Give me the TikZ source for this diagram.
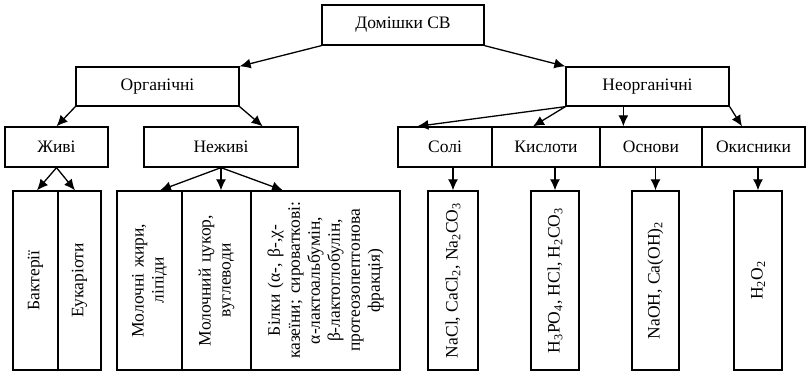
\documentclass[tikz,border=0pt]{standalone}
\usepackage{fontspec}
\setmainfont{Liberation Serif}
\usepackage{tikz}
\usetikzlibrary{calc,arrows.meta}

\begin{document}
\begin{tikzpicture}[x=1pt,y=-1pt,
  box/.style={draw,line width=1.3pt,inner sep=0pt,font=\fontsize{17.5}{20}\selectfont},
  vbox/.style={box,rotate=90,align=center,minimum width=179pt},
  arr/.style={line width=1.3pt,-{Latex[length=11pt,width=10pt]}}]
\useasboundingbox (0,0) rectangle (807,371);

% upper levels
\node[box,minimum width=162pt,minimum height=40pt] (dom) at (403,25) {Домішки СВ};
\node[box,minimum width=163pt,minimum height=39pt] (org) at (157.5,86.5) {Органічні};
\node[box,minimum width=163pt,minimum height=39pt] (inorg) at (647.5,86.5) {Неорганічні};
\node[box,minimum width=103pt,minimum height=40pt] (live) at (56.5,147) {Живі};
\node[box,minimum width=154pt,minimum height=40pt] (dead) at (221,147) {Неживі};
\node[box,minimum width=94pt,minimum height=40pt] (salt) at (445,147) {Солі};
\node[box,minimum width=108pt,minimum height=40pt] (acid) at (546,147) {Кислоти};
\node[box,minimum width=102pt,minimum height=40pt] (base) at (651,147) {Основи};
\node[box,minimum width=103pt,minimum height=40pt] (oxid) at (753.5,147) {Окисники};

% lower level (rotated text)
\node[vbox,minimum height=45pt] (bact) at (35.5,280.5) {Бактерії};
\node[vbox,minimum height=43pt] (euk) at (79.5,280.5) {Еукаріоти};
\node[vbox,minimum height=65pt,text width=150pt] (fat) at (149.5,280.5) {Молочні жири,\\ліпіди};
\node[vbox,minimum height=69pt,text width=150pt] (sugar) at (216.5,280.5) {Молочний цукор,\\вуглеводи};
\node[vbox,minimum height=149pt,text width=170pt] (prot) at (325.5,280.5)
  {Білки (α-, β-,χ-\\казеїни; сироваткові:\\α-лактоальбумін,\\β-лактоглобулін,\\протеозопептонова\\фракція)};
\node[vbox,minimum height=50pt] (nacl) at (453,280.5) {NaCl, CaCl\textsubscript{2}, Na\textsubscript{2}CO\textsubscript{3}};
\node[vbox,minimum height=48pt] (hpo) at (555,280.5) {H\textsubscript{3}PO\textsubscript{4}, HCl, H\textsubscript{2}CO\textsubscript{3}};
\node[vbox,minimum height=47pt] (naoh) at (655.5,280.5) {NaOH, Ca(OH)\textsubscript{2}};
\node[vbox,minimum height=48pt] (hoo) at (758,280.5) {H\textsubscript{2}O\textsubscript{2}};

% arrows
\draw[arr] (dom.south west) -- (org.north east);
\draw[arr] (dom.south east) -- (inorg.north west);
\draw[arr] (org.south west) -- (live.north);
\draw[arr] (org.south east) -- ([xshift=-36pt]dead.north east);
\draw[arr] (live.south) -- ([xshift=1.5pt]bact.east);
\draw[arr] (live.south) -- ([xshift=-4.5pt]euk.east);
\draw[arr] (dead.south) -- ([xshift=10.5pt]fat.east);
\draw[arr] (dead.south) -- (dead.south |- sugar.east);
\draw[arr] (dead.south) -- ([xshift=-42.5pt]prot.east);
\coordinate (inorg mid) at ([xshift=58pt]inorg.south west);
\draw[arr] (inorg.south west) -- ([xshift=20pt]salt.north west);
\draw[arr] (inorg.south west) -- ([xshift=-13pt]acid.north);
\draw[arr] (inorg mid) -- (inorg mid |- base.north);
\draw[arr] (inorg.south east) -- ([xshift=-11.5pt]oxid.north);
\draw[arr] (nacl.east |- salt.south) -- (nacl.east);
\draw[arr] (hpo.east |- acid.south) -- (hpo.east);
\draw[arr] (naoh.east |- base.south) -- (naoh.east);
\draw[arr] (hoo.east |- oxid.south) -- (hoo.east);
\end{tikzpicture}
\end{document}
